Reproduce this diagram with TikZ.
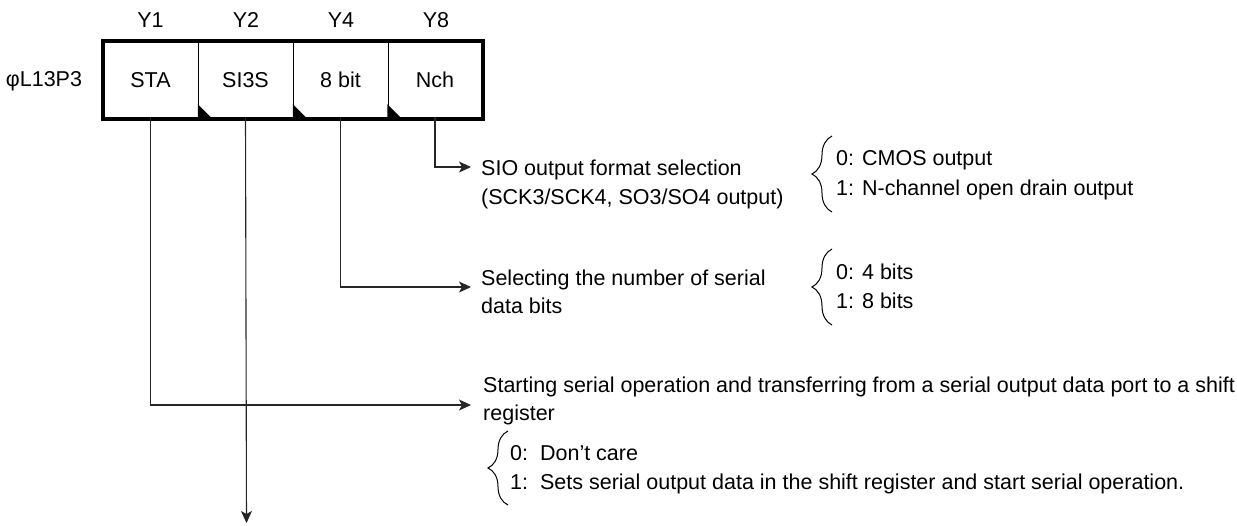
\documentclass[tikz,border=0pt]{standalone}
\usepackage{fontspec}
\setmainfont{Liberation Sans}
\usetikzlibrary{arrows.meta,decorations.pathreplacing}
\tikzset{
  txt/.style={font=\fontsize{21.5}{26}\selectfont, inner sep=0pt},
  desc/.style={txt, anchor=base west},
  cell/.style={txt, minimum width=95pt, minimum height=78pt},
  frame/.style={line width=4pt},
  divider/.style={line width=1.2pt},
  conn/.style={line width=1.1pt, draw=black!85},
  arr/.style={conn, -{Stealth[length=12pt,width=11pt,inset=3pt]}},
  bracestyle/.style={line width=1pt, decorate, decoration={brace, amplitude=20pt}},
  corner/.style={fill=black}
}
\begin{document}
\begin{tikzpicture}[x=1pt,y=-1pt]
\useasboundingbox (0,0) rectangle (1237,525);
% register cells
\node[cell] (sta)  at (150.5,80) {STA};
\node[cell] (si3s) at (245.5,80) {SI3S};
\node[cell] (bit8) at (340.5,80) {8 bit};
\node[cell] (nch)  at (435.0,80) {Nch};
% bit labels
\node[txt] (y1) at (150.5,20) {Y1};
\node[txt] (y2) at (246,20) {Y2};
\node[txt] (y4) at (341,20) {Y4};
\node[txt] (y8) at (436,20) {Y8};
\node[txt] (reg) at (44,81) {φL13P3};
% frame and dividers
\draw[divider] (sta.north east) -- (sta.south east);
\draw[divider] (si3s.north east) -- (si3s.south east);
\draw[divider] (bit8.north east) -- (bit8.south east);
\fill[corner] (si3s.south west) -- ++(0,-15) -- ++(15,15) -- cycle;
\fill[corner] (bit8.south west) -- ++(0,-15) -- ++(15,15) -- cycle;
\fill[corner] (nch.south west) -- ++(0,-15) -- ++(15,15) -- cycle;
\draw[frame] (sta.north west) rectangle (nch.south east);
% descriptions
\node[desc] (sio1) at (481,175) {SIO output format selection};
\node[desc] (sio2) at (481,204) {(SCK3/SCK4, SO3/SO4 output)};
\node[desc] (cmos0) at (836,165) {0: CMOS output};
\node[desc] (cmos1) at (836,195) {1: N-channel open drain output};
\node[desc] (sel1) at (481,285) {Selecting the number of serial};
\node[desc] (sel2) at (481,313) {data bits};
\node[desc] (bits0) at (836,279) {0: 4 bits};
\node[desc] (bits1) at (836,308) {1: 8 bits};
\node[desc] (st1) at (483,392) {Starting serial operation and transferring from a serial output data port to a shift};
\node[desc] (st2) at (483,420) {register};
\node[desc] (dc0) at (510,460) {0:\ \ Don’t care};
\node[desc] (dc1) at (510,489) {1:\ \ Sets serial output data in the shift register and start serial operation.};
% braces
\draw[bracestyle] (832,212) -- (832,136);
\draw[bracestyle] (832,325) -- (832,249);
\draw[bracestyle] (508,505) -- (508,431);
% connector ends
\coordinate (nchend) at (471,167);
\coordinate (bitend) at (471,287);
\coordinate (staend) at (471,405);
\coordinate (siend) at (246.5,523);
% connectors
\draw[arr] ([yshift=2pt]nch.south) |- (nchend);
\draw[arr] ([yshift=2pt]bit8.south) |- (bitend);
\draw[arr] ([yshift=2pt]sta.south) |- (staend);
\draw[arr] ([yshift=2pt]si3s.south) -- (siend);
\end{tikzpicture}
\end{document}
